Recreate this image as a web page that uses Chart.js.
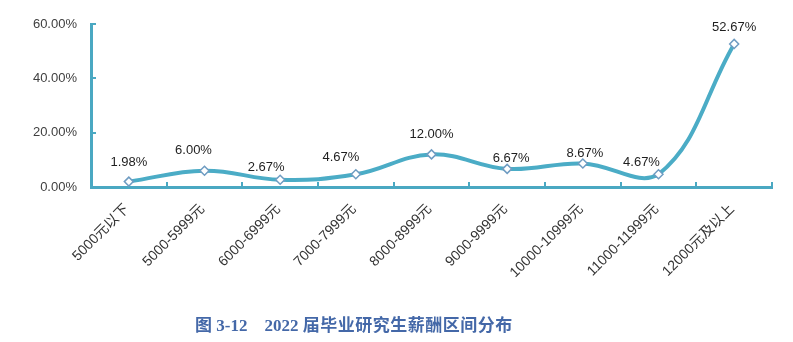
<!DOCTYPE html>
<html>
<head>
<meta charset="utf-8">
<script src="https://cdn.jsdelivr.net/npm/chart.js@4/dist/chart.umd.min.js"></script>
<style>
  html, body { margin: 0; padding: 0; background: #ffffff; }
  #wrap { position: relative; width: 793px; height: 342px; }
  #c { position: absolute; left: 0; top: 0; }
  #title {
    position: absolute; left: 195px; top: 311px; line-height: 17px;
    font: bold 17px "Liberation Serif", "Noto Sans CJK SC", serif;
    color: #4468a8; white-space: pre;
  }
  #title .cjk { letter-spacing: 0.5px; }
</style>
</head>
<body>
<div id="wrap">
  <canvas id="c" width="793" height="342"></canvas>
  <div id="title">图 3-12    2022 <span class="cjk">届毕业研究生薪酬区间分布</span></div>
</div>
<script>
// Salary bands of 2022 graduate students and the share of each band (%)
const categories = ['5000元以下', '5000-5999元', '6000-6999元', '7000-7999元', '8000-8999元',
                    '9000-9999元', '10000-10999元', '11000-11999元', '12000元及以上'];
const shares = [1.98, 6.00, 2.67, 4.67, 12.00, 6.67, 8.67, 4.67, 52.67];
const yTicks = [0, 20, 40, 60];

// Value-label placement relative to each point (dx, dy in px)
const labelShift = [[0, -19], [-11, -20], [-14, -12], [-15, -17], [0, -20],
                    [4, -10], [2, -10], [-17, -12], [0, -16]];

const teal = '#4BACC6';
const axisTeal = '#4aa8c2';
const fontFamily = "'Liberation Sans', 'Noto Sans CJK SC', sans-serif";

// Short tick marks pointing into the plot area
const innerTicks = {
  id: 'innerTicks',
  beforeDatasetsDraw(chart) {
    const { ctx, scales: { x, y } } = chart;
    ctx.save();
    ctx.strokeStyle = axisTeal;
    ctx.lineWidth = 2;
    for (let i = 0; i <= categories.length; i++) {
      const px = Math.round(x.getPixelForValue(i - 0.5));
      ctx.beginPath();
      ctx.moveTo(px, y.bottom);
      ctx.lineTo(px, y.bottom - 5);
      ctx.stroke();
    }
    yTicks.forEach(v => {
      const py = Math.round(y.getPixelForValue(v));
      ctx.beginPath();
      ctx.moveTo(x.left, py);
      ctx.lineTo(x.left + 5, py);
      ctx.stroke();
    });
    ctx.restore();
  }
};

// Percentage labels above the points
const valueLabels = {
  id: 'valueLabels',
  afterDatasetsDraw(chart) {
    const { ctx } = chart;
    const meta = chart.getDatasetMeta(0);
    ctx.save();
    ctx.font = '13px ' + fontFamily;
    ctx.fillStyle = '#1e1e1e';
    ctx.textAlign = 'center';
    ctx.textBaseline = 'middle';
    meta.data.forEach((pt, i) => {
      const [dx, dy] = labelShift[i];
      ctx.fillText(shares[i].toFixed(2) + '%', pt.x + dx, pt.y + dy);
    });
    ctx.restore();
  }
};

new Chart(document.getElementById('c'), {
  type: 'line',
  data: {
    labels: categories,
    datasets: [{
      data: shares,
      borderColor: teal,
      borderWidth: 4,
      tension: 0.4,
      fill: false,
      pointStyle: 'rectRot',
      pointRadius: 4.5,
      pointBorderWidth: 1.5,
      pointBackgroundColor: '#ffffff',
      pointBorderColor: '#6f9cc2'
    }]
  },
  options: {
    responsive: false,
    animation: false,
    devicePixelRatio: 1,
    layout: { padding: { top: 24, right: 21, left: 0, bottom: 0 } },
    plugins: { legend: { display: false }, tooltip: { enabled: false }, title: { display: false } },
    scales: {
      x: {
        type: 'category',
        offset: true,
        grid: { display: true, drawOnChartArea: false, drawTicks: false, color: 'rgba(0,0,0,0)' },
        border: { display: true, color: axisTeal, width: 3 },
        ticks: {
          autoSkip: false, minRotation: 45, maxRotation: 45,
          padding: 14, labelOffset: -2,
          color: '#333333',
          font: { size: 14, family: fontFamily }
        },
        afterFit(scale) { scale.height = 155; }
      },
      y: {
        min: 0, max: 60,
        grid: { display: true, drawOnChartArea: false, drawTicks: false, color: 'rgba(0,0,0,0)' },
        border: { display: true, color: axisTeal, width: 3 },
        afterBuildTicks(scale) { scale.ticks = yTicks.map(v => ({ value: v })); },
        ticks: {
          padding: 14,
          color: '#404040',
          font: { size: 13, family: fontFamily },
          callback: v => v.toFixed(2) + '%'
        },
        afterFit(scale) { scale.width = 91; }
      }
    }
  },
  plugins: [innerTicks, valueLabels]
});
</script>
</body>
</html>
